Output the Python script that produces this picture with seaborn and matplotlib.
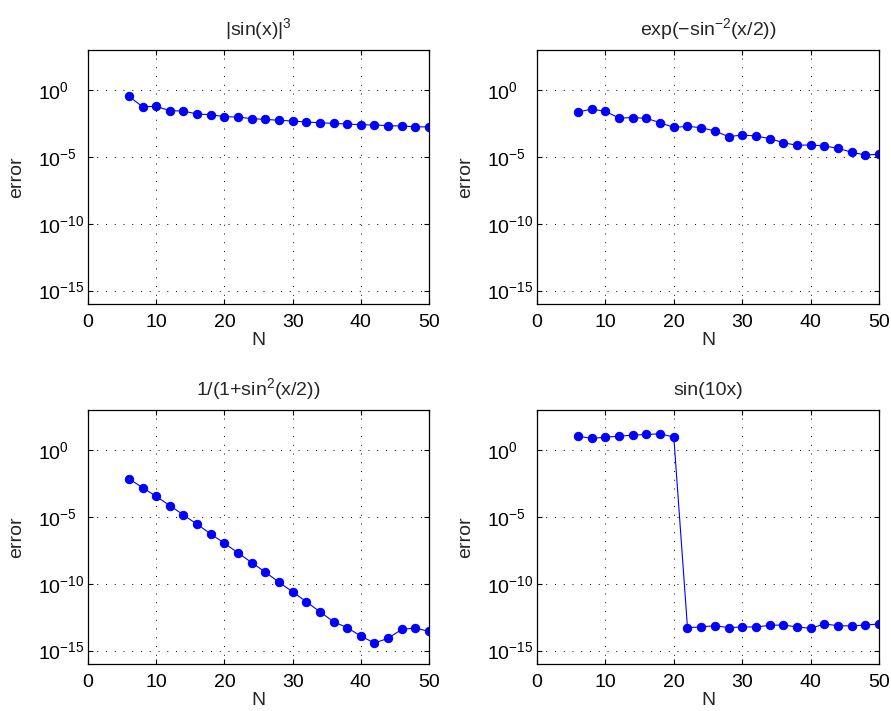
import numpy as np
import pandas as pd
import matplotlib
matplotlib.use("Agg")
import matplotlib.pyplot as plt
import seaborn as sns

# ---- data (log10 of error) ----
N = [6, 8, 10, 12, 14, 16, 18, 20, 22, 24, 26, 28, 30, 32, 34, 36, 38, 40, 42, 44, 46, 48, 50]

log_err_abs_sin3 = [-0.47, -1.24, -1.22, -1.54, -1.57, -1.79, -1.84, -1.99, -2.01, -2.14, -2.19, -2.26,
                    -2.31, -2.39, -2.44, -2.49, -2.54, -2.59, -2.61, -2.66, -2.69, -2.74, -2.76]
log_err_exp = [-1.64, -1.42, -1.59, -2.09, -2.06, -2.11, -2.44, -2.79, -2.71, -2.81, -3.06, -3.48,
               -3.36, -3.43, -3.63, -3.93, -4.13, -4.10, -4.18, -4.35, -4.65, -4.85, -4.80]
log_err_rational = [-2.14, -2.81, -3.46, -4.15, -4.85, -5.55, -6.27, -6.97, -7.69, -8.41, -9.13, -9.88,
                    -10.60, -11.34, -12.09, -12.84, -13.28, -13.91, -14.43, -14.08, -13.41, -13.31, -13.56]
log_err_sin10x = [1.04, 0.87, 0.97, 1.04, 1.12, 1.17, 1.22, 0.97, -13.28, -13.23, -13.13, -13.28,
                  -13.23, -13.23, -13.11, -13.08, -13.23, -13.33, -13.01, -13.13, -13.16, -13.08, -13.01]

titles = [r"$|$sin(x)$|^3$", r"exp($-$sin$^{-2}$(x/2))", r"1/(1+sin$^2$(x/2))", "sin(10x)"]
series = [log_err_abs_sin3, log_err_exp, log_err_rational, log_err_sin10x]

x_ticks = [0, 10, 20, 30, 40, 50]
y_ticks = [1e0, 1e-5, 1e-10, 1e-15]

sns.set_style("ticks")
plt.rcParams["font.family"] = ["Liberation Sans", "DejaVu Sans"]
plt.rcParams["mathtext.fontset"] = "custom"
plt.rcParams["mathtext.rm"] = "Liberation Sans"
plt.rcParams["mathtext.it"] = "Liberation Sans:italic"
plt.rcParams["mathtext.bf"] = "Liberation Sans:bold"
plt.rcParams["mathtext.sf"] = "Liberation Sans"
plt.rcParams["mathtext.default"] = "rm"

fig = plt.figure(figsize=(8.91, 7.11), dpi=100)

W, H = 891, 711
boxes = [(88, 50, 429, 304), (537, 50, 879, 304), (88, 410, 429, 664), (537, 410, 879, 664)]
FS = 14

for (x0, y0, x1, y1), title, le in zip(boxes, titles, series):
    ax = fig.add_axes([x0 / W, (H - y1) / H, (x1 - x0) / W, (y1 - y0) / H])
    df = pd.DataFrame({"N": N, "error": 10.0 ** np.array(le)})
    sns.lineplot(data=df, x="N", y="error", ax=ax, color=(0, 0, 1), linewidth=0.8,
                 marker="o", markersize=6, markeredgecolor=(0, 0, 1), markerfacecolor=(0, 0, 1))
    ax.set_yscale("log")
    ax.set_xlim(0, 50)
    ax.set_ylim(1e-16, 1e3)
    ax.set_xticks(x_ticks)
    ax.set_yticks(y_ticks)
    ax.yaxis.set_minor_locator(matplotlib.ticker.NullLocator())
    ax.grid(True, color="black", linestyle=(0, (1, 8)), linewidth=0.7)
    ax.tick_params(direction="in", top=True, right=True, length=3.5, width=0.8,
                   labelsize=FS, colors="black")
    ax.tick_params(axis="x", pad=7)
    ax.tick_params(axis="y", pad=36)
    plt.setp(ax.get_yticklabels(), ha="left")
    for s in ax.spines.values():
        s.set_color("black")
        s.set_linewidth(0.9)
    ax.set_title(title, fontsize=FS, pad=11)
    ax.set_xlabel("N", fontsize=FS, labelpad=1)
    ax.set_ylabel("error", fontsize=FS, labelpad=9)

fig.savefig("out.png", dpi=100)
